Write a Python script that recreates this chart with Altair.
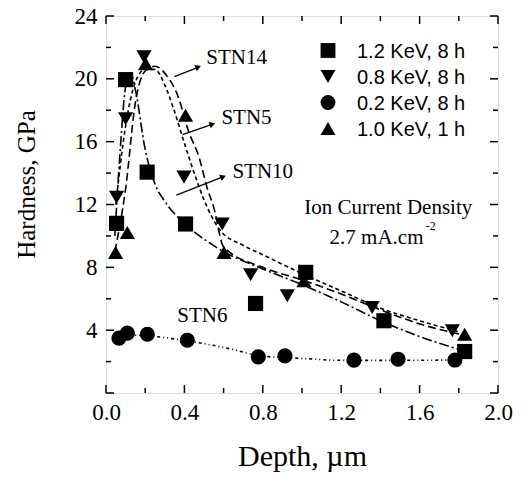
import math
import altair as alt
import pandas as pd

# ---------------- data ----------------
series_names = ["1.2 KeV, 8 h", "0.8 KeV, 8 h", "0.2 KeV, 8 h", "1.0 KeV, 1 h"]
series_shapes = ["square", "triangle-down", "circle", "triangle-up"]

sq_x = [0.054, 0.10, 0.21, 0.406, 0.763, 1.019, 1.418, 1.83]
sq_y = [10.8, 19.95, 14.06, 10.76, 5.7, 7.68, 4.6, 2.64]

dn_x = [0.054, 0.10, 0.194, 0.398, 0.593, 0.738, 0.925, 1.358, 1.767]
dn_y = [12.46, 17.46, 21.4, 13.74, 10.76, 7.53, 6.19, 5.44, 3.96]

ci_x = [0.066, 0.109, 0.211, 0.415, 0.777, 0.913, 1.265, 1.49, 1.78]
ci_y = [3.49, 3.81, 3.74, 3.36, 2.3, 2.36, 2.09, 2.15, 2.1]

up_x = [0.049, 0.109, 0.202, 0.406, 0.602, 1.01, 1.83]
up_y = [8.95, 10.22, 20.97, 17.68, 8.95, 7.15, 3.74]

# fitted curves
c_sq_x = [0.045, 0.07, 0.10, 0.125, 0.15, 0.20, 0.25, 0.30, 0.40, 0.50, 0.60, 0.80, 1.00, 1.20, 1.40, 1.60, 1.82]
c_sq_y = [10.0, 15.0, 19.5, 20.4, 19.3, 15.5, 13.3, 12.2, 10.8, 9.8, 9.0, 7.9, 6.9, 5.8, 4.6, 3.6, 2.7]

c_dn_x = [0.05, 0.10, 0.15, 0.20, 0.25, 0.30, 0.35, 0.40, 0.45, 0.50, 0.58, 0.70, 0.80, 1.00, 1.20, 1.40, 1.60, 1.80]
c_dn_y = [12.0, 17.0, 19.8, 20.6, 20.6, 19.6, 17.9, 15.9, 14.0, 12.3, 10.4, 9.4, 8.8, 7.6, 6.5, 5.4, 4.6, 3.9]

c_up_x = [0.045, 0.10, 0.15, 0.20, 0.25, 0.31, 0.37, 0.42, 0.475, 0.515, 0.55, 0.60, 0.80, 1.00, 1.20, 1.40, 1.60, 1.82]
c_up_y = [9.0, 13.0, 18.5, 20.5, 20.8, 20.2, 18.8, 16.7, 15.0, 13.1, 11.8, 9.3, 8.0, 7.2, 6.3, 5.3, 4.4, 3.7]

c_ci_x = [0.05, 0.10, 0.20, 0.40, 0.60, 0.80, 1.00, 1.20, 1.50, 1.80]
c_ci_y = [3.5, 3.7, 3.65, 3.35, 2.9, 2.35, 2.2, 2.08, 2.08, 2.1]

curve_dash = [[10, 3, 2, 3], [4, 3], [3, 3, 1, 3, 1, 3], [8, 4]]

labels_text = ["STN14", "STN5", "STN10", "STN6", "Ion Current Density"]
labels_x = [0.512, 0.589, 0.645, 0.364, 1.44]
labels_y = [21.3, 17.5, 14.1, 4.92, 11.75]
labels_align = ["left", "left", "left", "left", "center"]

density_text = "2.7 mA.cm"
density_x, density_y = 1.62, 9.85
sup_text = "-2"
sup_x, sup_y = 1.632, 10.6

arrow_x0 = [0.349, 0.390, 0.359]
arrow_y0 = [20.14, 16.45, 12.6]
arrow_x1 = [0.466, 0.538, 0.593]
arrow_y1 = [20.72, 17.09, 13.74]

x_major = [0.0, 0.4, 0.8, 1.2, 1.6, 2.0]
x_minor = [0.2, 0.6, 1.0, 1.4, 1.8]
y_major = [0, 4, 8, 12, 16, 20, 24]
y_minor = [2, 6, 10, 14, 18, 22]
y_labels = [4, 8, 12, 16, 20, 24]

# ---------------- layout ----------------
W, H = 392, 377
XMIN, XMAX, YMIN, YMAX = 0.0, 2.0, 0.0, 24.0
SERIF = "Liberation Serif"
SANS = "Liberation Sans"

xs = alt.Scale(domain=[XMIN, XMAX], nice=False, zero=False)
ys = alt.Scale(domain=[YMIN, YMAX], nice=False, zero=False)

# ---------------- tables ----------------
pts = pd.concat([
    pd.DataFrame({"x": sq_x, "y": sq_y, "s": series_names[0]}),
    pd.DataFrame({"x": dn_x, "y": dn_y, "s": series_names[1]}),
    pd.DataFrame({"x": ci_x, "y": ci_y, "s": series_names[2]}),
    pd.DataFrame({"x": up_x, "y": up_y, "s": series_names[3]}),
], ignore_index=True)

curves = pd.concat([
    pd.DataFrame({"x": c_sq_x, "y": c_sq_y, "c": series_names[0]}),
    pd.DataFrame({"x": c_dn_x, "y": c_dn_y, "c": series_names[1]}),
    pd.DataFrame({"x": c_ci_x, "y": c_ci_y, "c": series_names[2]}),
    pd.DataFrame({"x": c_up_x, "y": c_up_y, "c": series_names[3]}),
], ignore_index=True)

X = alt.X("x:Q", scale=xs, title="Depth, µm",
          axis=alt.Axis(values=x_major, format=".1f", ticks=False, domain=False, grid=False,
                        labelFlush=False, labelOverlap=False,
                        labelFont=SERIF, labelFontSize=23, labelColor="black", labelPadding=8,
                        titleFont=SERIF, titleFontSize=30, titleFontWeight="normal",
                        titleColor="black", titleY=72, titleBaseline="alphabetic"))
Y = alt.Y("y:Q", scale=ys, title="Hardness, GPa",
          axis=alt.Axis(values=y_labels, ticks=False, domain=False, grid=False,
                        labelFlush=False, labelOverlap=False,
                        labelFont=SERIF, labelFontSize=23, labelColor="black", labelPadding=9,
                        titleFont=SERIF, titleFontSize=25, titleFontWeight="normal",
                        titleColor="black", titleX=-80, titleY=168, titleAngle=270,
                        titleAlign="center", titleBaseline="middle"))

lines = alt.Chart(curves).mark_line(color="black", strokeWidth=1.6, interpolate="monotone").encode(
    x=X, y=Y, detail="c:N",
    strokeDash=alt.StrokeDash("c:N", scale=alt.Scale(domain=series_names, range=curve_dash), legend=None),
)

points = alt.Chart(pts).mark_point(filled=True, opacity=1, size=230, color="black").encode(
    x=alt.X("x:Q", scale=xs), y=alt.Y("y:Q", scale=ys),
    shape=alt.Shape("s:N", scale=alt.Scale(domain=series_names, range=series_shapes), legend=None),
)

# legend drawn by hand (symbol column + label column)
legend_layers = []
LEG_SYM_X, LEG_TXT_X, LEG_Y0, LEG_DY = 222, 251, 34.5, 26
for i, (name, shp) in enumerate(zip(series_names, series_shapes)):
    d = pd.DataFrame({"t": [name]})
    legend_layers.append(alt.Chart(d).mark_point(shape=shp, filled=True, opacity=1, size=220,
                                                 color="black").encode(
        x=alt.value(LEG_SYM_X), y=alt.value(LEG_Y0 + i * LEG_DY)))
    legend_layers.append(alt.Chart(d).mark_text(font=SANS, fontSize=20, align="left",
                                                baseline="middle", color="black").encode(
        x=alt.value(LEG_TXT_X), y=alt.value(LEG_Y0 + i * LEG_DY + 1), text="t:N"))

lab = pd.DataFrame({"x": labels_x, "y": labels_y, "t": labels_text, "a": labels_align})
text_left = alt.Chart(lab[lab.a == "left"]).mark_text(font=SERIF, fontSize=21, align="left",
                                                       baseline="middle", color="black").encode(
    x=alt.X("x:Q", scale=xs), y=alt.Y("y:Q", scale=ys), text="t:N")
text_center = alt.Chart(lab[lab.a == "center"]).mark_text(font=SERIF, fontSize=21, align="center",
                                                           baseline="middle", color="black").encode(
    x=alt.X("x:Q", scale=xs), y=alt.Y("y:Q", scale=ys), text="t:N")
dens = alt.Chart(pd.DataFrame({"x": [density_x], "y": [density_y], "t": [density_text]})).mark_text(
    font=SERIF, fontSize=21, align="right", baseline="middle", color="black").encode(
    x=alt.X("x:Q", scale=xs), y=alt.Y("y:Q", scale=ys), text="t:N")
sup = alt.Chart(pd.DataFrame({"x": [sup_x], "y": [sup_y], "t": [sup_text]})).mark_text(
    font=SERIF, fontSize=12, align="left", baseline="middle", color="black").encode(
    x=alt.X("x:Q", scale=xs), y=alt.Y("y:Q", scale=ys), text="t:N")

ang = []
for a, b, c, d in zip(arrow_x0, arrow_y0, arrow_x1, arrow_y1):
    dx = (c - a) / (XMAX - XMIN) * W
    dy = (d - b) / (YMAX - YMIN) * H
    ang.append(math.degrees(math.atan2(dx, dy)))
arr = pd.DataFrame({"x": arrow_x0, "y": arrow_y0, "x2": arrow_x1, "y2": arrow_y1, "ang": ang})
arrow_lines = alt.Chart(arr).mark_rule(color="black", strokeWidth=1.3).encode(
    x=alt.X("x:Q", scale=xs), y=alt.Y("y:Q", scale=ys), x2="x2:Q", y2="y2:Q")
arrow_heads = alt.Chart(arr).mark_point(shape="triangle", filled=True, opacity=1, size=45,
                                        color="black").encode(
    x=alt.X("x2:Q", scale=xs), y=alt.Y("y2:Q", scale=ys), angle=alt.Angle("ang:Q", scale=None))

# inward ticks on all four sides
def xticks(vals, length):
    df = pd.DataFrame({"v": vals})
    bottom = alt.Chart(df).mark_rule(color="black", strokeWidth=1.5).encode(
        x=alt.X("v:Q", scale=xs), y=alt.value(H), y2=alt.value(H - length))
    top = alt.Chart(df).mark_rule(color="black", strokeWidth=1.5).encode(
        x=alt.X("v:Q", scale=xs), y=alt.value(0), y2=alt.value(length))
    return [bottom, top]

def yticks(vals, length):
    df = pd.DataFrame({"v": vals})
    left = alt.Chart(df).mark_rule(color="black", strokeWidth=1.5).encode(
        y=alt.Y("v:Q", scale=ys), x=alt.value(0), x2=alt.value(length))
    right = alt.Chart(df).mark_rule(color="black", strokeWidth=1.5).encode(
        y=alt.Y("v:Q", scale=ys), x=alt.value(W), x2=alt.value(W - length))
    return [left, right]

tick_layers = xticks(x_major, 8) + xticks(x_minor, 5) + yticks(y_major, 8) + yticks(y_minor, 5)

chart = alt.layer(
    lines, *tick_layers, arrow_lines, arrow_heads, text_left, text_center, dens, sup, points,
    *legend_layers
).properties(
    width=W, height=H,
    autosize=alt.AutoSizeParams(type="none"),
    padding={"left": 98, "top": 8, "right": 16, "bottom": 80},
).configure_view(
    stroke="black", strokeWidth=2, fill="white"
).configure(background="white")

chart.save("out.html", embed_options={"renderer": "svg", "actions": False})
